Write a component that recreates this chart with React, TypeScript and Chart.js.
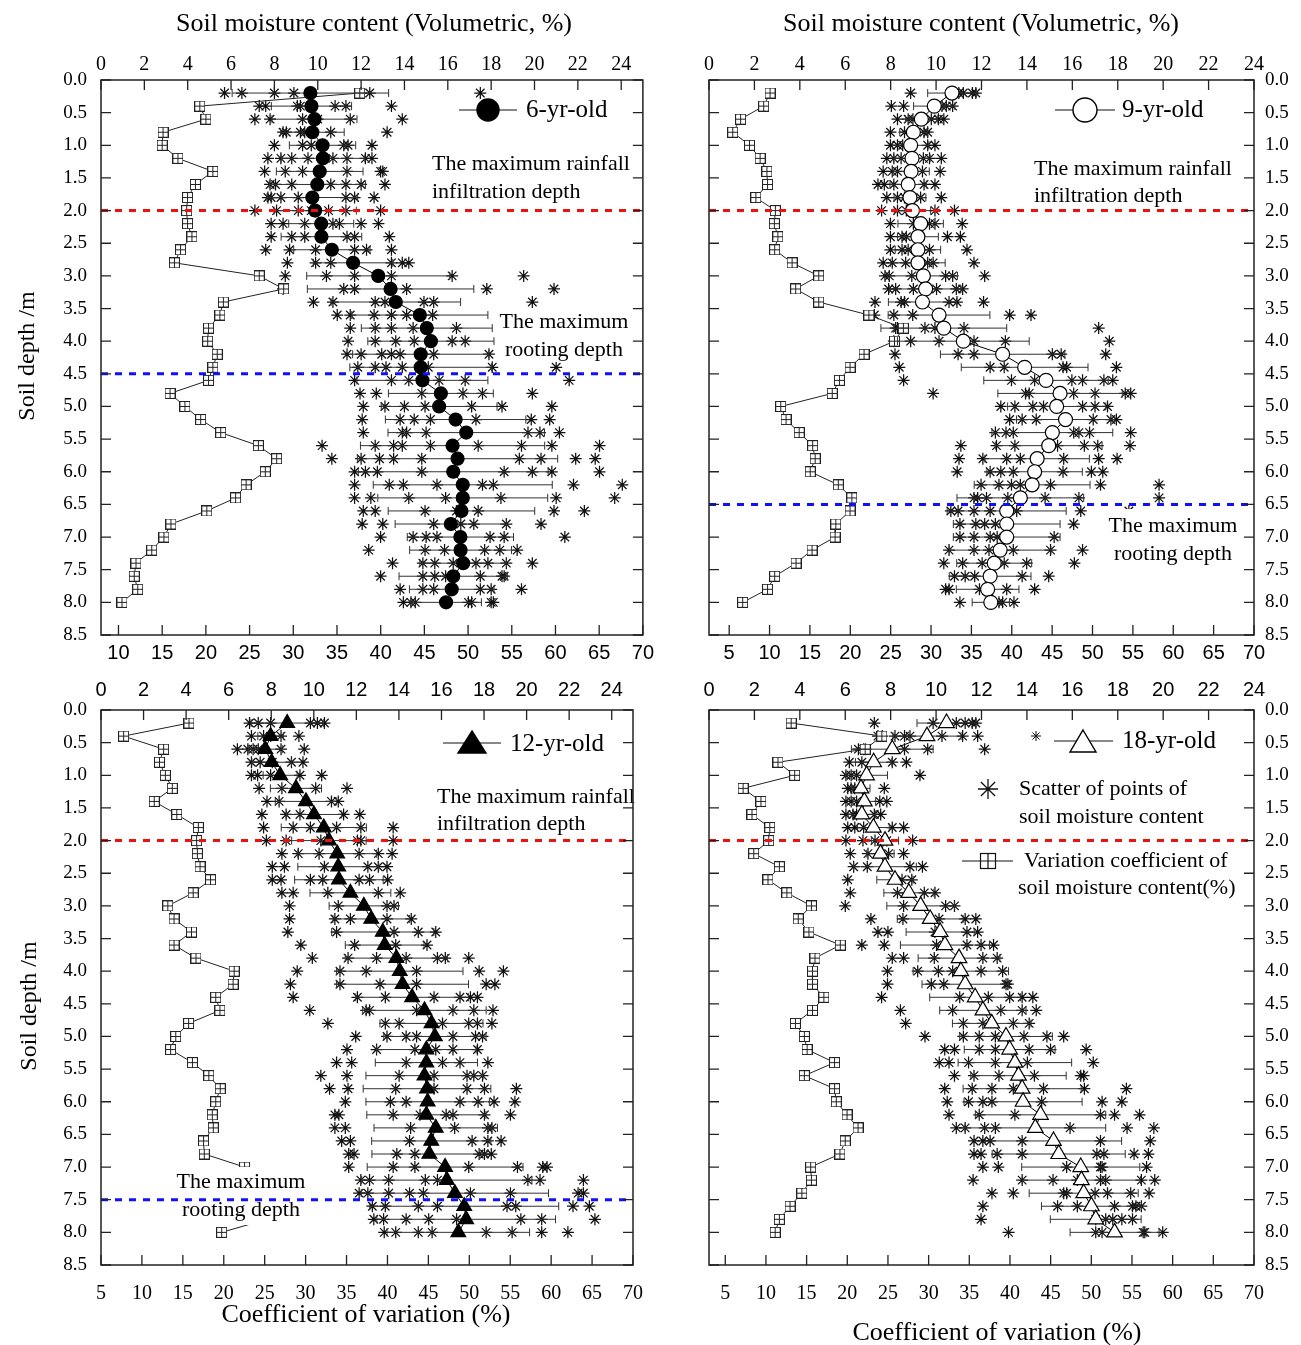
import React, { useEffect, useRef } from "react";
import { Chart, registerables } from "chart.js";

Chart.register(...registerables);

// ---------- data ----------
const depths = [0.2, 0.4, 0.6, 0.8, 1.0, 1.2, 1.4, 1.6, 1.8, 2.0, 2.2, 2.4, 2.6, 2.8, 3.0, 3.2, 3.4, 3.6, 3.8, 4.0,
  4.2, 4.4, 4.6, 4.8, 5.0, 5.2, 5.4, 5.6, 5.8, 6.0, 6.2, 6.4, 6.6, 6.8, 7.0, 7.2, 7.4, 7.6, 7.8, 8.0];
const moistureTicks = [0, 2, 4, 6, 8, 10, 12, 14, 16, 18, 20, 22, 24];
const depthTicks = [0, 0.5, 1, 1.5, 2, 2.5, 3, 3.5, 4, 4.5, 5, 5.5, 6, 6.5, 7, 7.5, 8, 8.5];
const cvTicksFrom10 = [10, 15, 20, 25, 30, 35, 40, 45, 50, 55, 60, 65, 70];
const cvTicksFrom5 = [5, 10, 15, 20, 25, 30, 35, 40, 45, 50, 55, 60, 65, 70];

// 6-yr-old
const mean6 = [9.66, 9.71, 9.85, 9.75, 10.22, 10.24, 10.09, 9.98, 9.75, 9.88, 10.16, 10.17, 10.65, 11.63, 12.79, 13.36, 13.6, 14.71, 15.03, 15.22,
  14.75, 14.75, 14.83, 15.68, 15.6, 16.36, 16.85, 16.22, 16.45, 16.25, 16.69, 16.69, 16.63, 16.14, 16.58, 16.59, 16.71, 16.25, 16.18, 15.92];
const sd6 = [3.61, 1.85, 1.96, 1.47, 1.53, 1.93, 2.0, 2.22, 2.09, 1.9, 1.5, 1.86, 1.76, 1.83, 3.3, 3.84, 2.99, 3.14, 3.02, 2.91,
  3.14, 3.27, 3.02, 2.42, 2.67, 3.24, 3.61, 4.25, 4.62, 4.38, 4.13, 3.92, 3.38, 2.57, 2.45, 2.35, 2.0, 2.5, 1.95, 1.63];
const cv6 = [37.6, 19.3, 20.0, 15.1, 15.0, 16.8, 20.8, 18.8, 17.9, 17.8, 17.9, 18.4, 17.1, 16.4, 26.1, 28.9, 22.0, 21.6, 20.3, 20.2,
  21.3, 20.8, 20.3, 15.9, 17.6, 19.4, 21.7, 26.0, 28.1, 26.8, 24.6, 23.4, 20.1, 16.0, 15.2, 13.8, 12.0, 11.8, 12.2, 10.4];
const scatter6 = [
  [5.7, 6.5, 8.0, 8.9, 12.0, 12.4, 17.5],
  [7.3, 7.6, 9.06, 9.2, 10.8, 11.3, 13.4],
  [7.1, 7.8, 9.3, 10.0, 11.5, 13.9],
  [8.4, 8.55, 9.2, 9.4, 10.6, 13.2],
  [8.0, 9.3, 9.7, 11.2, 11.4, 12.5],
  [7.7, 8.3, 8.8, 9.55, 10.7, 11.35, 12.2, 12.5],
  [7.55, 8.5, 9.3, 11.35, 12.9, 13.0],
  [7.8, 8.05, 8.8, 10.6, 11.3, 12.0, 13.1],
  [7.7, 7.85, 8.3, 9.1, 11.3, 11.7, 12.6],
  [7.1, 8.1, 9.1, 9.7, 10.5, 11.3, 12.9],
  [7.85, 8.4, 9.4, 10.7, 11.0, 12.0, 12.8],
  [7.85, 8.8, 9.4, 11.35, 11.7, 13.3],
  [7.6, 8.7, 9.9, 11.7, 12.25, 13.4],
  [8.6, 9.9, 10.6, 13.4, 13.9, 14.2],
  [8.5, 10.4, 11.7, 13.4, 16.2, 19.5],
  [8.4, 11.2, 11.7, 14.1, 17.8, 20.9],
  [9.8, 10.7, 12.65, 13.1, 14.9, 15.35, 19.9],
  [10.9, 11.5, 12.6, 13.4, 14.1, 15.3],
  [11.5, 12.65, 13.4, 14.4, 16.4],
  [11.4, 12.65, 13.6, 14.45, 16.2, 16.8],
  [11.35, 12.0, 12.95, 13.4, 13.8, 15.35, 17.9],
  [11.85, 12.65, 13.15, 13.9, 15.1, 18.05, 21.0],
  [11.7, 13.4, 14.2, 15.6, 16.8, 21.6],
  [11.95, 12.7, 14.8, 16.7, 17.6, 19.9],
  [12.1, 13.1, 14.0, 14.95, 17.1, 18.5, 20.8],
  [12.05, 13.8, 14.45, 15.2, 17.3, 19.85, 20.7],
  [12.1, 13.9, 14.1, 15.0, 19.7, 20.25, 21.15],
  [10.2, 12.65, 13.5, 13.9, 15.2, 17.4, 19.4, 20.8, 23.0],
  [10.65, 12.0, 12.85, 13.5, 14.8, 19.3, 20.3, 21.9, 22.8],
  [11.7, 12.2, 12.75, 14.8, 18.6, 19.9, 20.8, 23.0],
  [11.7, 13.3, 13.95, 15.5, 17.6, 18.1, 21.8, 24.05],
  [11.7, 12.45, 14.2, 15.9, 18.45, 21.0, 23.7],
  [12.1, 12.65, 14.95, 16.4, 17.4, 20.9, 22.3],
  [12.05, 13.0, 15.35, 16.6, 17.2, 18.7, 20.3],
  [12.9, 14.4, 15.0, 15.5, 17.95, 18.6, 21.4],
  [12.35, 14.95, 15.85, 17.7, 18.4, 19.2],
  [13.45, 14.85, 15.4, 16.25, 17.3, 17.85, 18.7, 19.9],
  [12.9, 14.85, 15.4, 15.9, 17.5, 18.5, 18.6],
  [13.8, 14.85, 15.35, 17.5, 18.0, 19.4],
  [13.95, 14.3, 14.5, 16.95, 17.1, 18.0, 18.1],
];

// 9-yr-old
const mean9 = [10.7, 9.92, 9.35, 9.0, 8.88, 8.94, 8.9, 8.77, 8.85, 8.96, 9.32, 9.2, 9.2, 9.2, 9.44, 9.54, 9.4, 10.13, 10.34, 11.2,
  12.93, 13.9, 14.84, 15.46, 15.31, 15.7, 15.12, 14.96, 14.45, 14.34, 14.23, 13.71, 13.11, 13.11, 13.11, 12.82, 12.56, 12.38, 12.27, 12.41];
const sd9 = [1.07, 0.91, 0.7, 0.6, 0.8, 0.8, 0.8, 0.8, 0.7, 0.8, 1.0, 0.9, 1.0, 1.2, 1.5, 1.6, 1.5, 2.24, 2.77, 2.9,
  2.74, 2.79, 2.74, 2.74, 2.16, 2.16, 2.66, 2.35, 2.3, 2.1, 2.55, 2.79, 2.62, 2.35, 2.35, 2.24, 1.65, 1.8, 1.38, 0.82];
const cv9 = [10.06, 9.27, 6.41, 5.44, 7.51, 8.83, 9.67, 9.75, 8.3, 10.72, 10.59, 11.03, 10.63, 12.79, 16.09, 13.23, 16.09, 22.3, 26.57, 25.47,
  21.7, 19.97, 18.65, 17.76, 11.38, 12.04, 13.67, 15.34, 15.65, 15.04, 18.51, 20.19, 19.97, 18.2, 18.12, 15.26, 13.28, 10.63, 9.75, 6.67];
const scatter9 = [
  [8.88, 11.0, 11.2, 11.6, 11.75],
  [8.03, 8.57, 10.26, 10.45, 10.73],
  [8.3, 8.77, 8.98, 9.79, 10.1, 10.34],
  [7.99, 8.61, 9.47, 9.63],
  [7.99, 8.3, 8.53, 9.63, 9.95],
  [7.83, 8.14, 8.46, 9.44, 9.71, 10.23],
  [7.67, 8.07, 8.3, 9.4, 10.18],
  [7.44, 7.72, 8.14, 9.47, 9.95],
  [7.83, 8.3, 8.61, 9.32, 10.23],
  [7.6, 8.3, 8.69, 9.95, 10.81],
  [7.99, 9.0, 9.71, 9.95, 11.15],
  [7.99, 8.5, 8.69, 10.5, 11.07],
  [7.99, 8.5, 8.77, 9.71, 11.36],
  [7.67, 8.07, 8.66, 9.63, 9.87, 11.67],
  [7.75, 7.94, 8.93, 10.42, 10.73, 12.14],
  [7.91, 8.22, 9.0, 10.02, 10.89, 11.17],
  [7.31, 8.46, 8.61, 10.57, 10.92, 12.09],
  [7.28, 8.14, 8.97, 13.24, 14.18],
  [8.22, 8.3, 9.51, 9.95, 11.23, 17.16],
  [8.14, 8.88, 10.13, 11.67, 13.05, 17.63],
  [8.19, 10.97, 11.67, 15.12, 15.51, 17.47],
  [8.38, 12.38, 13.0, 15.59, 15.75, 17.94],
  [8.57, 13.32, 14.34, 15.98, 16.45, 17.39, 17.78],
  [9.87, 13.94, 14.1, 16.06, 17.0, 18.33, 18.57],
  [12.85, 13.47, 14.26, 14.73, 16.45, 17.0, 17.55],
  [13.24, 13.79, 14.41, 16.92, 17.7, 17.94],
  [12.61, 13.08, 13.4, 16.06, 16.29, 16.76, 18.57],
  [11.09, 12.66, 13.47, 15.35, 16.53, 17.12, 18.54],
  [11.01, 12.06, 13.11, 13.71, 15.62, 17.16, 17.97],
  [10.93, 12.38, 12.85, 13.4, 15.59, 16.84, 17.34],
  [11.98, 12.77, 13.32, 13.71, 15.04, 17.24, 19.82],
  [11.67, 11.83, 12.22, 13.16, 14.8, 16.29, 19.82],
  [10.65, 10.97, 11.67, 12.38, 13.55, 16.37, 18.49],
  [11.05, 11.75, 12.14, 12.61, 16.06],
  [11.05, 11.67, 12.38, 12.69, 15.2],
  [10.57, 11.67, 12.33, 13.4, 15.04, 16.45],
  [10.34, 11.17, 12.03, 13.0, 13.99, 16.09],
  [10.81, 11.28, 11.7, 13.79, 14.96],
  [10.42, 10.57, 11.91, 13.11, 14.34],
  [11.05, 12.77, 12.93, 13.43],
];

// 12-yr-old
const mean12 = [8.75, 7.97, 7.72, 8.02, 8.42, 9.16, 9.63, 10.01, 10.47, 10.71, 11.1, 11.15, 11.18, 11.72, 12.35, 12.7, 13.24, 13.33, 13.88, 14.04,
  14.17, 14.62, 15.2, 15.53, 15.69, 15.29, 15.29, 15.2, 15.32, 15.35, 15.29, 15.73, 15.52, 15.43, 16.17, 16.25, 16.63, 17.07, 17.16, 16.79];
const sd12 = [1.7, 0.6, 0.8, 0.93, 0.8, 1.2, 1.44, 1.3, 2.0, 1.75, 1.85, 1.9, 2.08, 1.9, 1.63, 1.8, 2.4, 1.85, 2.4, 2.97,
  3.1, 2.65, 2.9, 2.42, 2.4, 2.34, 2.4, 2.75, 3.0, 2.9, 2.8, 2.9, 2.8, 2.7, 3.66, 4.0, 4.4, 4.44, 4.2, 3.35];
const cv12 = [15.75, 7.76, 12.65, 12.14, 12.86, 13.71, 11.5, 14.26, 16.89, 16.68, 16.77, 17.1, 18.38, 16.26, 13.16, 13.92, 16.05, 13.92, 16.6, 21.27,
  21.14, 19.02, 19.53, 15.7, 14.13, 13.5, 16.17, 18.17, 19.57, 19.02, 18.6, 18.72, 17.53, 17.62, 22.54, 24.0, 25.0, 25.5, 25.3, 19.74];
const scatter12 = [
  [6.98, 7.39, 7.97, 9.84, 10.17, 10.5],
  [7.07, 7.64, 7.97, 8.46, 9.3],
  [6.41, 6.9, 7.15, 7.39, 8.46, 9.55],
  [7.07, 7.48, 8.05, 8.95, 9.49],
  [7.07, 7.36, 7.97, 9.35, 10.37],
  [7.43, 8.5, 10.09, 11.56],
  [7.8, 8.37, 10.83, 11.15],
  [7.56, 8.7, 9.35, 11.4, 12.16],
  [7.64, 9.03, 9.84, 11.07, 12.21, 13.73],
  [7.77, 8.7, 10.33, 12.05, 12.21, 13.73],
  [8.5, 9.27, 10.25, 12.13, 13.03, 13.68],
  [8.05, 8.62, 10.5, 12.54, 13.03, 13.44],
  [8.05, 8.46, 9.84, 10.42, 12.13, 12.62, 13.47],
  [8.5, 9.03, 10.66, 13.03, 14.06],
  [8.86, 11.15, 13.44, 13.77],
  [8.86, 10.99, 11.72, 13.44, 14.58],
  [8.78, 11.07, 13.77, 14.91, 15.73],
  [9.39, 11.92, 13.85, 15.32],
  [9.93, 11.61, 12.95, 14.34, 15.81, 16.18, 17.28],
  [9.22, 11.23, 12.46, 14.83, 17.77, 18.91],
  [8.9, 11.23, 13.11, 14.83, 18.1, 18.51],
  [9.03, 12.05, 13.36, 15.65, 16.87, 17.36, 17.69],
  [9.81, 12.46, 12.62, 14.83, 16.54, 17.52, 18.42],
  [10.66, 13.36, 14.01, 16.05, 17.28, 17.69, 18.37],
  [11.97, 13.44, 14.34, 14.83, 16.54, 17.6, 17.93],
  [11.56, 12.95, 14.75, 15.73, 16.54, 17.69],
  [11.07, 11.78, 14.34, 16.05, 16.87, 18.18],
  [10.33, 11.56, 14.01, 15.65, 17.2, 17.52, 17.93],
  [10.74, 11.61, 13.85, 15.65, 17.2, 18.02, 19.52],
  [11.48, 13.6, 14.34, 16.87, 17.72, 18.47, 19.45],
  [10.99, 11.18, 13.73, 14.99, 16.22, 16.54, 18.02, 19.24],
  [10.99, 11.48, 14.55, 16.62, 18.18, 18.37],
  [11.31, 11.72, 14.5, 17.44, 18.18, 18.8],
  [11.64, 11.89, 13.9, 14.75, 17.77, 18.02, 18.34],
  [11.64, 13.73, 14.75, 17.28, 19.57, 20.76, 20.96],
  [12.21, 12.62, 13.52, 15.24, 15.81, 20.06, 20.63, 22.67],
  [12.13, 12.54, 13.52, 14.5, 15.15, 17.36, 19.24, 22.42, 22.67],
  [12.75, 13.36, 14.91, 15.81, 19.08, 19.49, 22.18, 22.95],
  [12.82, 13.28, 14.34, 15.4, 16.71, 19.73, 20.71, 23.21],
  [13.31, 13.85, 14.91, 15.56, 18.1, 19.32, 20.71, 21.94],
];

// 18-yr-old
const mean18 = [10.46, 9.6, 8.07, 7.25, 6.94, 6.69, 6.84, 6.73, 7.24, 7.75, 7.55, 7.75, 8.19, 8.8, 9.32, 9.74, 10.18, 10.39, 11.01, 11.09,
  11.28, 11.72, 12.06, 12.45, 13.08, 13.24, 13.47, 13.63, 13.79, 13.83, 14.6, 14.37, 15.17, 15.4, 16.37, 16.4, 16.5, 16.84, 17.03, 17.86];
const sd18 = [1.3, 1.5, 1.8, 0.8, 0.92, 0.4, 0.5, 0.6, 0.7, 0.6, 0.6, 1.38, 0.8, 1.1, 1.49, 1.45, 1.5, 1.96, 1.8, 2.1,
  1.9, 2.0, 1.9, 1.73, 2.04, 2.0, 2.5, 2.1, 2.6, 2.6, 2.87, 3.1, 3.0, 2.93, 2.6, 2.6, 2.4, 2.2, 2.0, 1.96];
const cv18 = [13.1, 24.25, 22.2, 11.48, 13.53, 7.19, 9.38, 8.28, 10.47, 10.34, 8.5, 11.65, 10.25, 12.57, 15.59, 13.97, 15.28, 19.14, 16.03, 15.72,
  15.72, 17.12, 15.72, 13.62, 14.72, 15.06, 18.43, 14.72, 18.43, 18.65, 19.97, 21.32, 19.75, 19.09, 15.5, 15.59, 14.41, 12.96, 11.65, 11.13];
const scatter18 = [
  [7.28, 9.87, 10.89, 11.28, 11.59, 11.75],
  [7.44, 7.63, 8.19, 8.61, 8.85, 10.26, 11.17, 11.83],
  [6.58, 6.81, 6.89, 8.61, 9.63, 12.14],
  [6.18, 6.73, 8.07, 8.69],
  [6.03, 6.26, 6.5, 9.29],
  [6.11, 6.26, 6.42, 7.72],
  [6.03, 6.26, 6.5, 7.52, 7.83],
  [6.03, 6.34, 6.5, 7.28, 7.56],
  [6.11, 6.42, 6.81, 8.07, 8.57],
  [6.03, 6.78, 7.31, 7.83, 8.97],
  [6.22, 7.0, 7.91, 8.57],
  [6.37, 6.97, 8.85, 9.4],
  [6.11, 8.5, 8.93],
  [6.22, 8.3, 9.48, 9.95],
  [6.0, 8.57, 10.42, 10.81],
  [7.13, 8.54, 10.13, 11.28, 11.75],
  [7.44, 7.88, 9.95, 11.36, 11.83],
  [6.73, 7.72, 10.02, 11.36, 11.98, 12.53],
  [8.07, 8.57, 9.92, 12.06, 12.69],
  [7.86, 9.19, 10.1, 10.73, 11.98, 12.93],
  [7.86, 9.79, 10.34, 13.08, 13.16],
  [7.6, 11.04, 12.3, 13.24, 13.79, 14.26],
  [8.43, 10.73, 12.85, 13.79, 14.41],
  [8.66, 11.2, 12.06, 13.4, 14.1],
  [9.51, 11.2, 11.9, 12.61, 13.87, 14.88, 15.62],
  [10.38, 10.81, 11.9, 12.61, 14.1, 15.04, 16.61],
  [10.14, 10.57, 11.43, 12.61, 14.02, 16.92],
  [10.81, 11.67, 12.77, 14.33, 16.37, 16.5],
  [10.38, 11.59, 12.46, 13.4, 14.73, 16.53, 18.38],
  [10.49, 11.43, 12.06, 12.46, 14.65, 17.31, 18.18],
  [10.57, 11.9, 13.47, 17.24, 17.86, 18.96],
  [10.89, 11.28, 12.14, 12.61, 15.9, 18.41, 19.59],
  [11.67, 12.06, 12.38, 13.79, 17.24, 19.43],
  [11.67, 11.98, 12.69, 13.79, 17.08, 17.39, 18.72, 19.35],
  [12.06, 12.74, 15.75, 17.24, 17.31, 19.27],
  [11.63, 13.79, 15.15, 16.22, 17.24, 17.47, 19.04, 19.63],
  [12.46, 13.4, 15.62, 15.75, 17.0, 17.55, 18.57, 19.38],
  [12.06, 15.35, 16.22, 17.86, 18.65, 18.8, 19.04],
  [11.98, 17.03, 17.47, 17.78, 18.18, 18.65],
  [13.19, 17.03, 17.31, 19.12, 19.19, 19.98],
];

// ---------- style / layout ----------
const SERIF = "'Liberation Serif','Times New Roman',Times,serif";
const SANS = "'Liberation Sans',Arial,Helvetica,sans-serif";
const RED = "#ee1111";
const BLUE = "#1010ff";

type Txt = { t: string; x: number; y: number; size: number; align?: CanvasTextAlign; rot?: number };

function strokeLine(ctx: any, x0: number, y0: number, x1: number, y1: number, lw = 1) {
  ctx.save();
  ctx.strokeStyle = "#111";
  ctx.lineWidth = lw;
  ctx.beginPath();
  ctx.moveTo(x0, y0);
  ctx.lineTo(x1, y1);
  ctx.stroke();
  ctx.restore();
}
function drawCircle(ctx: any, x: number, y: number, r: number, fill: string) {
  ctx.save();
  ctx.beginPath();
  ctx.arc(x, y, r, 0, Math.PI * 2);
  ctx.fillStyle = fill;
  ctx.fill();
  ctx.strokeStyle = "#000";
  ctx.lineWidth = 1.4;
  ctx.stroke();
  ctx.restore();
}
function drawTri(ctx: any, x: number, yTop: number, yBot: number, hw: number, fill: string) {
  ctx.save();
  ctx.beginPath();
  ctx.moveTo(x, yTop);
  ctx.lineTo(x + hw, yBot);
  ctx.lineTo(x - hw, yBot);
  ctx.closePath();
  ctx.fillStyle = fill;
  ctx.fill();
  ctx.strokeStyle = "#000";
  ctx.lineWidth = 1.4;
  ctx.stroke();
  ctx.restore();
}
function drawStar(ctx: any, x: number, y: number, r: number, lw: number) {
  ctx.save();
  ctx.strokeStyle = "#111";
  ctx.lineWidth = lw;
  ctx.beginPath();
  const d = r * Math.SQRT1_2;
  ctx.moveTo(x - r, y); ctx.lineTo(x + r, y);
  ctx.moveTo(x, y - r); ctx.lineTo(x, y + r);
  ctx.moveTo(x - d, y - d); ctx.lineTo(x + d, y + d);
  ctx.moveTo(x - d, y + d); ctx.lineTo(x + d, y - d);
  ctx.stroke();
  ctx.restore();
}
function drawBoxPlus(ctx: any, x: number, y: number, s: number) {
  ctx.save();
  ctx.fillStyle = "#fff";
  ctx.fillRect(x - s / 2, y - s / 2, s, s);
  ctx.strokeStyle = "#111";
  ctx.lineWidth = 1.2;
  ctx.strokeRect(x - s / 2, y - s / 2, s, s);
  ctx.beginPath();
  ctx.moveTo(x, y - s / 2); ctx.lineTo(x, y + s / 2);
  ctx.moveTo(x - s / 2, y); ctx.lineTo(x + s / 2, y);
  ctx.stroke();
  ctx.restore();
}

function makeBoxPlusSprite(size: number) {
  const c = document.createElement("canvas");
  c.width = size;
  c.height = size;
  const g = c.getContext("2d")!;
  g.fillStyle = "#fff";
  g.fillRect(0, 0, size, size);
  g.strokeStyle = "#222";
  g.lineWidth = 1;
  g.strokeRect(0.5, 0.5, size - 1, size - 1);
  g.beginPath();
  g.moveTo(size / 2, 0.5); g.lineTo(size / 2, size - 0.5);
  g.moveTo(0.5, size / 2); g.lineTo(size - 0.5, size / 2);
  g.stroke();
  return c;
}

const panels = [
  {
    key: "p6", ox: 0, oy: 0, w: 660, h: 670,
    pad: { left: 0, right: 14, top: 0, bottom: 0 }, yPos: "left", yW: 101, topH: 80, botH: 35,
    topMax: 25, botMin: 8, botTicks: cvTicksFrom10, topFont: SERIF, botFont: SANS, topPad: 3, botPad: 6, yPad: 14,
    means: mean6, sds: sd6, cvs: cv6, scatter: scatter6,
    marker: "circle", markerR: 6.5, markerFill: "#000",
    refLines: [{ d: 2.0, c: RED }, { d: 4.5, c: BLUE }],
    boxes: [[497, 308, 634, 362]],
    texts: [
      { t: "Soil moisture content (Volumetric, %)", x: 374, y: 24, size: 26, align: "center" },
      { t: "Soil depth /m", x: 28, y: 356, size: 24, align: "center", rot: -90 },
      { t: "The maximum rainfall", x: 432, y: 164, size: 22 },
      { t: "infiltration depth", x: 432, y: 192, size: 22 },
      { t: "The maximum", x: 564, y: 322, size: 22, align: "center" },
      { t: "rooting depth", x: 564, y: 350, size: 22, align: "center" },
      { t: "6-yr-old", x: 526, y: 110, size: 25 },
    ] as Txt[],
    legend: (ctx: any, X: any, Y: any) => {
      strokeLine(ctx, X(459), Y(110), X(517), Y(110));
      drawCircle(ctx, X(488), Y(110), 11, "#000");
    },
  },
  {
    key: "p9", ox: 660, oy: 0, w: 641, h: 670,
    pad: { left: 49, right: 0, top: 0, bottom: 0 }, yPos: "right", yW: 47, topH: 80, botH: 35,
    topMax: 24, botMin: 2.5, botTicks: cvTicksFrom5, topFont: SERIF, botFont: SANS, topPad: 3, botPad: 6, yPad: 11,
    means: mean9, sds: sd9, cvs: cv9, scatter: scatter9,
    marker: "circle", markerR: 7, markerFill: "#fff",
    refLines: [{ d: 2.0, c: RED }, { d: 6.5, c: BLUE }],
    boxes: [[1100, 509, 1246, 570]],
    texts: [
      { t: "Soil moisture content (Volumetric, %)", x: 981, y: 24, size: 26, align: "center" },
      { t: "The maximum rainfall", x: 1034, y: 169, size: 22 },
      { t: "infiltration depth", x: 1034, y: 196, size: 22 },
      { t: "The maximum", x: 1173, y: 526, size: 22, align: "center" },
      { t: "rooting depth", x: 1173, y: 554, size: 22, align: "center" },
      { t: "9-yr-old", x: 1122, y: 110, size: 25 },
    ] as Txt[],
    legend: (ctx: any, X: any, Y: any) => {
      strokeLine(ctx, X(1055), Y(110), X(1115), Y(110));
      drawCircle(ctx, X(1085), Y(110), 12, "#fff");
    },
  },
  {
    key: "p12", ox: 0, oy: 670, w: 660, h: 675,
    pad: { left: 0, right: 14, top: 0, bottom: 0 }, yPos: "left", yW: 101, topH: 40, botH: 80,
    topMax: 25, botMin: 5, botTicks: cvTicksFrom5, topFont: SANS, botFont: SERIF, topPad: 8, botPad: 17, yPad: 14,
    means: mean12, sds: sd12, cvs: cv12, scatter: scatter12,
    marker: "triangle", markerR: 8.5, markerFill: "#000",
    refLines: [{ d: 2.0, c: RED }, { d: 7.5, c: BLUE }],
    boxes: [[172, 1167, 310, 1225]],
    texts: [
      { t: "Soil depth /m", x: 30, y: 1006, size: 24, align: "center", rot: -90 },
      { t: "Coefficient of variation (%)", x: 366, y: 1315, size: 26, align: "center" },
      { t: "The maximum rainfall", x: 437, y: 797, size: 22 },
      { t: "infiltration depth", x: 437, y: 824, size: 22 },
      { t: "The maximum", x: 241, y: 1182, size: 22, align: "center" },
      { t: "rooting depth", x: 241, y: 1210, size: 22, align: "center" },
      { t: "12-yr-old", x: 510, y: 744, size: 25 },
    ] as Txt[],
    legend: (ctx: any, X: any, Y: any) => {
      strokeLine(ctx, X(443), Y(743), X(501), Y(743));
      drawTri(ctx, X(472), Y(731), Y(753), 14, "#000");
    },
  },
  {
    key: "p18", ox: 660, oy: 670, w: 641, h: 675,
    pad: { left: 49, right: 0, top: 0, bottom: 0 }, yPos: "right", yW: 47, topH: 40, botH: 80,
    topMax: 24, botMin: 3, botTicks: cvTicksFrom5, topFont: SANS, botFont: SERIF, topPad: 8, botPad: 17, yPad: 11,
    means: mean18, sds: sd18, cvs: cv18, scatter: scatter18,
    marker: "triangle", markerR: 9, markerFill: "#fff",
    refLines: [{ d: 2.0, c: RED }],
    boxes: [],
    texts: [
      { t: "Coefficient of variation (%)", x: 997, y: 1333, size: 26, align: "center" },
      { t: "18-yr-old", x: 1122, y: 741, size: 25 },
      { t: "Scatter of points of", x: 1019, y: 789, size: 22 },
      { t: "soil moisture content", x: 1019, y: 817, size: 22 },
      { t: "Variation coefficient of", x: 1024, y: 861, size: 22 },
      { t: "soil moisture content(%)", x: 1018, y: 888, size: 22 },
    ] as Txt[],
    legend: (ctx: any, X: any, Y: any) => {
      drawStar(ctx, X(1036), Y(736), 5, 1);
      strokeLine(ctx, X(1054), Y(741), X(1113), Y(741));
      drawTri(ctx, X(1083), Y(730), Y(752), 13, "#fff");
      drawStar(ctx, X(988), Y(789), 10, 1.3);
      strokeLine(ctx, X(962), Y(861), X(1013), Y(861));
      drawBoxPlus(ctx, X(988), Y(861), 15);
    },
  },
];

function drawText(ctx: any, t: Txt, X: (v: number) => number, Y: (v: number) => number) {
  ctx.save();
  ctx.font = `${t.size}px ${SERIF}`;
  ctx.fillStyle = "#000";
  ctx.textBaseline = "middle";
  ctx.textAlign = t.align || "left";
  ctx.translate(X(t.x), Y(t.y));
  if (t.rot) ctx.rotate((t.rot * Math.PI) / 180);
  ctx.fillText(t.t, 0, 0);
  ctx.restore();
}

function decoPlugin(p: any) {
  const X = (v: number) => v - p.ox;
  const Y = (v: number) => v - p.oy;
  return {
    id: "deco_" + p.key,
    beforeDatasetDraw(chart: any, args: any) {
      if (args.index !== 2) return;
      const ctx = chart.ctx;
      const xs = chart.scales.xTop;
      const ys = chart.scales.y;
      ctx.save();
      ctx.strokeStyle = "#333";
      ctx.lineWidth = 1;
      depths.forEach((d, i) => {
        const y = ys.getPixelForValue(d);
        const x1 = xs.getPixelForValue(p.means[i] - p.sds[i]);
        const x2 = xs.getPixelForValue(p.means[i] + p.sds[i]);
        ctx.beginPath();
        ctx.moveTo(x1, y); ctx.lineTo(x2, y);
        ctx.moveTo(x1, y - 4); ctx.lineTo(x1, y + 4);
        ctx.moveTo(x2, y - 4); ctx.lineTo(x2, y + 4);
        ctx.stroke();
      });
      ctx.restore();
    },
    afterDatasetsDraw(chart: any) {
      const ctx = chart.ctx;
      const a = chart.chartArea;
      const xt = chart.scales.xTop;
      const xb = chart.scales.xBot;
      const ys = chart.scales.y;
      ctx.save();
      ctx.fillStyle = "#fff";
      p.boxes.forEach((b: number[]) => ctx.fillRect(X(b[0]), Y(b[1]), b[2] - b[0], b[3] - b[1]));
      p.texts.forEach((t: Txt) => drawText(ctx, t, X, Y));
      p.refLines.forEach((r: any) => {
        const y = ys.getPixelForValue(r.d);
        ctx.strokeStyle = r.c;
        ctx.lineWidth = 3;
        ctx.setLineDash([7, 7]);
        ctx.beginPath();
        ctx.moveTo(a.left, y);
        ctx.lineTo(a.right, y);
        ctx.stroke();
      });
      ctx.setLineDash([]);
      ctx.strokeStyle = "#222";
      ctx.lineWidth = 1.5;
      ctx.strokeRect(a.left, a.top, a.right - a.left, a.bottom - a.top);
      ctx.lineWidth = 1.3;
      ctx.beginPath();
      moistureTicks.forEach((v) => {
        const x = xt.getPixelForValue(v);
        ctx.moveTo(x, a.top); ctx.lineTo(x, a.top + 10);
      });
      p.botTicks.forEach((v: number) => {
        const x = xb.getPixelForValue(v);
        ctx.moveTo(x, a.bottom); ctx.lineTo(x, a.bottom - 10);
      });
      depthTicks.forEach((v) => {
        const y = ys.getPixelForValue(v);
        ctx.moveTo(a.left, y); ctx.lineTo(a.left + 10, y);
        ctx.moveTo(a.right, y); ctx.lineTo(a.right - 10, y);
      });
      ctx.stroke();
      p.legend(ctx, X, Y);
      ctx.restore();
    },
  };
}

function buildChart(canvas: HTMLCanvasElement, p: any) {
  const boxSprite = makeBoxPlusSprite(11);
  const scatterPts = depths.flatMap((d, i) => p.scatter[i].map((x: number) => ({ x, y: d })));
  const meanPts = depths.map((d, i) => ({ x: p.means[i], y: d }));
  const cvPts = depths.map((d, i) => ({ x: p.cvs[i], y: d }));
  const setTicks = (vals: number[]) => (scale: any) => {
    scale.ticks = vals.map((v) => ({ value: v }));
  };
  const fix = (prop: string, val: number) => (scale: any) => {
    scale[prop] = val;
  };
  const tickFont = (family: string, size: number) => ({ family, size });
  return new Chart(canvas, {
    type: "scatter",
    data: {
      datasets: [
        {
          data: scatterPts, xAxisID: "xTop", yAxisID: "y",
          pointStyle: "star", pointRadius: 6, borderColor: "#111", borderWidth: 1.25,
          backgroundColor: "rgba(0,0,0,0)", showLine: false, order: 3,
        },
        {
          data: cvPts, xAxisID: "xBot", yAxisID: "y",
          pointStyle: boxSprite, pointRadius: 5.5, showLine: true,
          borderColor: "#222", borderWidth: 1, backgroundColor: "#fff", order: 2,
        },
        {
          data: meanPts, xAxisID: "xTop", yAxisID: "y", showLine: true,
          borderColor: "#000", borderWidth: 1,
          pointStyle: p.marker, pointRadius: p.markerR,
          pointBackgroundColor: p.markerFill, pointBorderColor: "#000", pointBorderWidth: 1.2,
          order: 1,
        },
      ],
    },
    options: {
      responsive: false,
      animation: false,
      devicePixelRatio: 1,
      events: [],
      layout: { padding: p.pad },
      plugins: { legend: { display: false }, tooltip: { enabled: false }, title: { display: false } },
      scales: {
        xTop: {
          type: "linear", position: "top", min: 0, max: p.topMax,
          afterBuildTicks: setTicks(moistureTicks), afterFit: fix("height", p.topH),
          grid: { display: false, drawTicks: false }, border: { display: false },
          ticks: {
            autoSkip: false, maxRotation: 0, minRotation: 0, padding: p.topPad, color: "#000",
            font: tickFont(p.topFont, 20), callback: (v: any) => String(v),
          },
        },
        xBot: {
          type: "linear", position: "bottom", min: p.botMin, max: 70,
          afterBuildTicks: setTicks(p.botTicks), afterFit: fix("height", p.botH),
          grid: { display: false, drawTicks: false }, border: { display: false },
          ticks: {
            autoSkip: false, maxRotation: 0, minRotation: 0, padding: p.botPad, color: "#000",
            font: tickFont(p.botFont, 20), callback: (v: any) => String(v),
          },
        },
        y: {
          type: "linear", position: p.yPos, reverse: true, min: 0, max: 8.5,
          afterBuildTicks: setTicks(depthTicks), afterFit: fix("width", p.yW),
          grid: { display: false, drawTicks: false }, border: { display: false },
          ticks: {
            autoSkip: false, padding: p.yPad, color: "#000",
            font: tickFont(SERIF, 19), callback: (v: any) => Number(v).toFixed(1),
          },
        },
      },
    } as any,
    plugins: [decoPlugin(p)],
  } as any);
}

function Panel({ p }: { p: any }) {
  const ref = useRef<HTMLCanvasElement>(null);
  useEffect(() => {
    if (!ref.current) return;
    const chart = buildChart(ref.current, p);
    return () => chart.destroy();
  }, [p]);
  return (
    <canvas
      ref={ref}
      width={p.w}
      height={p.h}
      style={{ position: "absolute", left: p.ox, top: p.oy, width: p.w, height: p.h }}
    />
  );
}

export default function App() {
  return (
    <div style={{ position: "absolute", left: 0, top: 0, width: 1301, height: 1345, background: "#fff", overflow: "hidden" }}>
      {panels.map((p) => (
        <Panel key={p.key} p={p} />
      ))}
    </div>
  );
}
